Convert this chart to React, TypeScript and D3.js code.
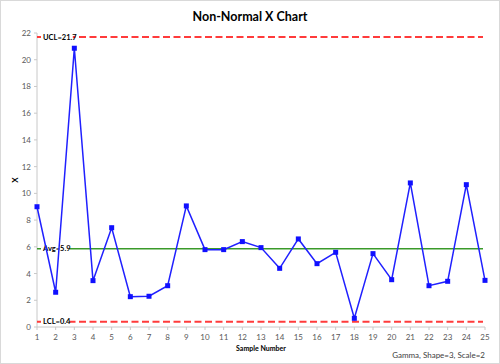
import React from "react";
import * as d3 from "d3";

const samples = d3.range(1, 26);
const values = [
  9.0, 2.6, 20.86, 3.47, 7.43, 2.27, 2.3, 3.09, 9.06, 5.79, 5.79, 6.39, 5.94,
  4.39, 6.59, 4.74, 5.59, 0.65, 5.49, 3.54, 10.78, 3.09, 3.42, 10.65, 3.49,
];
const yTicks = d3.range(0, 23, 2);
const limits = [
  { label: "UCL=21.7", value: 21.7, color: "#ff3b3b", dash: "7,3.5" },
  { label: "Avg=5.9", value: 5.86, color: "#3a9a2a", dash: "" },
  { label: "LCL=0.4", value: 0.4, color: "#ff3b3b", dash: "7,3.5" },
];

const width = 500;
const height = 364;
const margin = { top: 33, right: 15, bottom: 37, left: 37 };
const font = "Lato, 'Open Sans', sans-serif";

export default function App() {
  const x = d3
    .scaleLinear()
    .domain([1, 25])
    .range([margin.left, width - margin.right]);
  const y = d3
    .scaleLinear()
    .domain([0, 22])
    .range([height - margin.bottom, margin.top]);

  const line = d3
    .line<number>()
    .x((d, i) => x(samples[i]))
    .y((d) => y(d));

  const x0 = x(1);
  const x1 = x(25);
  const yBase = y(0);

  return (
    <svg
      width={width}
      height={height}
      style={{ position: "absolute", left: 0, top: 0, fontFamily: font }}
    >
      <rect x={0.5} y={0.5} width={width - 1} height={height - 1} fill="#fff" stroke="#d9d9d9" />
      <text x={250} y={21} textAnchor="middle" fontSize={12.5} fontWeight="bold" fill="#000">
        Non-Normal X Chart
      </text>

      {/* y axis */}
      <line x1={x0} x2={x0} y1={y(22)} y2={yBase} stroke="#c8c8c8" />
      {yTicks.map((t) => (
        <g key={t}>
          <line x1={x0 - 3} x2={x0} y1={y(t)} y2={y(t)} stroke="#c8c8c8" />
          <text x={x0 - 6} y={y(t) + 3} textAnchor="end" fontSize={8} fill="#595959">
            {t}
          </text>
        </g>
      ))}
      <text
        transform={`translate(18,${(y(22) + yBase) / 2}) rotate(-90)`}
        textAnchor="middle"
        fontSize={8}
        fontWeight="bold"
        fill="#000"
      >
        X
      </text>

      {/* x axis */}
      <line x1={x0} x2={x1} y1={yBase} y2={yBase} stroke="#c8c8c8" />
      {samples.map((s) => (
        <g key={s}>
          <line x1={x(s)} x2={x(s)} y1={yBase} y2={yBase + 3} stroke="#c8c8c8" />
          <text x={x(s)} y={yBase + 13} textAnchor="middle" fontSize={8} fill="#595959">
            {s}
          </text>
        </g>
      ))}
      <text x={(x0 + x1) / 2} y={yBase + 24} textAnchor="middle" fontSize={7} fontWeight="bold" fill="#000">
        Sample Number
      </text>
      <text x={x1} y={yBase + 31} textAnchor="end" fontSize={8} fill="#404040">
        Gamma, Shape=3, Scale=2
      </text>

      {/* control lines */}
      {limits.map((l) => (
        <g key={l.label}>
          <line
            x1={x0}
            x2={x1 - 2}
            y1={y(l.value)}
            y2={y(l.value)}
            stroke={l.color}
            strokeWidth={l.dash ? 2 : 1.5}
            strokeDasharray={l.dash || undefined}
          />
          <rect x={x0 + 4} y={y(l.value) - 4} width={l.label.length * 3.6 + 3} height={8} fill="#fff" />
          <text x={x0 + 6} y={y(l.value) + 2.5} fontSize={7.5} fontWeight="bold" fill="#000">
            {l.label}
          </text>
        </g>
      ))}

      {/* data */}
      <path d={line(values) || ""} fill="none" stroke="#2020ff" strokeWidth={1.5} />
      {values.map((v, i) => (
        <rect key={i} x={x(samples[i]) - 2.5} y={y(v) - 2.5} width={5} height={5} fill="#1010ff" />
      ))}
    </svg>
  );
}
